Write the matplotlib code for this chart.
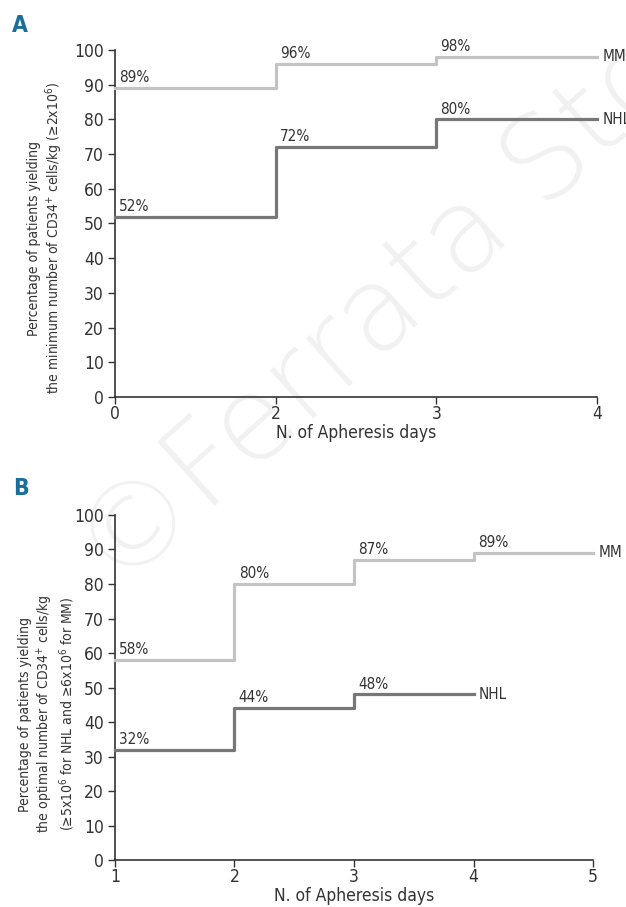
import matplotlib
matplotlib.use("Agg")
import matplotlib.pyplot as plt

# panel A data
days_a = ["0", "2", "3", "4"]
mm_a = [89, 96, 98, 98]
nhl_a = [52, 72, 80, 80]

# panel B data
days_b = ["1", "2", "3", "4", "5"]
mm_b = [58, 80, 87, 89, 89]
nhl_b = [32, 44, 48, 48]

yticks = [0, 10, 20, 30, 40, 50, 60, 70, 80, 90, 100]

MM_COLOR = "#c3c3c3"
NHL_COLOR = "#777777"
TXT = "#333333"
LETTER = "#1a6e98"

plt.rcParams["font.family"] = ["Liberation Sans Narrow", "DejaVu Sans"]
plt.rcParams["font.stretch"] = "condensed"
plt.rcParams["mathtext.default"] = "regular"


def style_axis(ax, labels, ylabel, label_x, label_y):
    ax.spines["top"].set_visible(False)
    ax.spines["right"].set_visible(False)
    for s in ("left", "bottom"):
        ax.spines[s].set_linewidth(1.2)
        ax.spines[s].set_color(TXT)
    ax.set_facecolor("none")
    ax.set_ylim(0, 100)
    ax.set_yticks(yticks)
    ax.set_xticks(range(len(labels)))
    ax.set_xticklabels(labels)
    ax.tick_params(direction="out", length=5, width=1, colors=TXT, labelsize=12.5)
    ax.tick_params(axis="x", pad=0.5)
    ax.tick_params(axis="y", pad=3)
    ax.set_xlabel("N. of Apheresis days", fontsize=12.5, color=TXT, labelpad=1)
    ax.set_ylabel(ylabel, fontsize=10, color=TXT, linespacing=1.15)
    ax.yaxis.set_label_coords(label_x, label_y)


def draw_series(ax, vals, color, name, annotate_n):
    x = list(range(len(vals)))
    ax.step(x, vals, where="post", color=color, lw=2.3, clip_on=False, zorder=3)
    for i in range(annotate_n):
        ax.annotate(f"{vals[i]}%", (x[i], vals[i]), xytext=(3, 2), textcoords="offset points",
                    ha="left", va="bottom", fontsize=11, color=TXT)
    ax.annotate(name, (x[-1], vals[-1]), xytext=(4, 0), textcoords="offset points",
                ha="left", va="center", fontsize=11, color=TXT, annotation_clip=False)


fig = plt.figure(figsize=(6.26, 9.07), dpi=100)

# faint watermark behind the plots
fig.text(0.155, 0.372, "\u00a9Ferrata Storti", fontsize=84, color="#f1f1f1", rotation=42,
         rotation_mode="anchor", ha="left", va="center", zorder=-5,
         family="DejaVu Sans", fontweight="light", fontstretch="normal")

ax_a = fig.add_axes([0.1837, 0.5623, 0.770, 0.3826])
draw_series(ax_a, mm_a, MM_COLOR, "MM", 3)
draw_series(ax_a, nhl_a, NHL_COLOR, "NHL", 3)
ax_a.set_xlim(0, len(days_a) - 1)
style_axis(ax_a, days_a,
           "Percentage of patients yielding\n"
           "the minimum number of CD34$^{+}$ cells/kg (\u22652x10$^{6}$)",
           -0.104, 0.458)

ax_b = fig.add_axes([0.1837, 0.0518, 0.7636, 0.3804])
draw_series(ax_b, mm_b, MM_COLOR, "MM", 4)
draw_series(ax_b, nhl_b, NHL_COLOR, "NHL", 3)
ax_b.set_xlim(0, len(days_b) - 1)
style_axis(ax_b, days_b,
           "Percentage of patients yielding\n"
           "the optimal number of CD34$^{+}$ cells/kg\n"
           "(\u22655x10$^{6}$ for NHL and \u22656x10$^{6}$ for MM)",
           -0.080, 0.423)

fig.text(0.019, 0.9647, "A", fontsize=16.5, fontweight="bold", color=LETTER, va="baseline")
fig.text(0.021, 0.454, "B", fontsize=16.5, fontweight="bold", color=LETTER, va="baseline")

fig.savefig("out.png", dpi=100)
